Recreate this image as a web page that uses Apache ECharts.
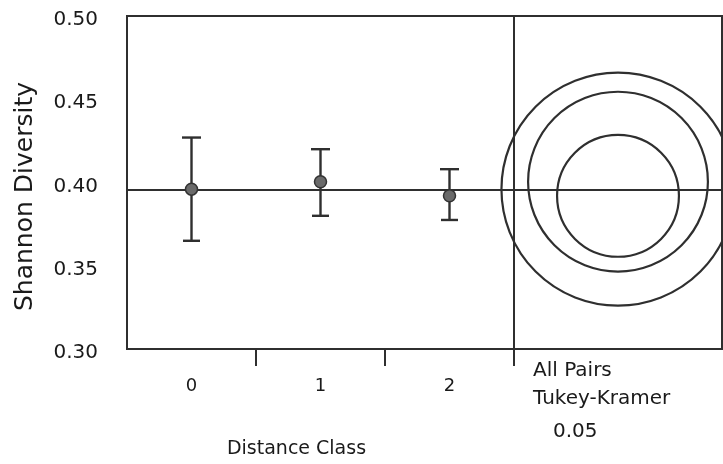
<!DOCTYPE html>
<html>
<head>
<meta charset="utf-8">
<script src="https://cdn.jsdelivr.net/npm/echarts@6/dist/echarts.min.js"></script>
<style>
html,body{margin:0;padding:0;background:#fff;}
#chart{width:723px;height:464px;}
</style>
</head>
<body>
<div id="chart"></div>
<script>
// ---- data ----
const categories = ['0', '1', '2'];
const means = [0.396, 0.4005, 0.392];
const lowerBars = [0.365, 0.380, 0.3775];
const upperBars = [0.427, 0.420, 0.408];
const grandMean = 0.3955;
const circleRadii = [0.070, 0.054, 0.0366];
const yTickValues = [0.30, 0.35, 0.40, 0.45, 0.50];
const panelLines = ['All Pairs', 'Tukey-Kramer', '0.05'];

const INK = '#2f2f2f';
const TXT = '#1a1a1a';
const FONT = 'DejaVu Sans';

const barData = categories.map((c, i) => [i, means[i], lowerBars[i], upperBars[i]]);
const circleData = means.map((m, i) => [0.5, m, circleRadii[i]]);

const chart = echarts.init(document.getElementById('chart'), null, {renderer: 'canvas'});

const option = {
  backgroundColor: '#fff',
  animation: false,
  grid: [
    {left: 127, top: 16, right: 209, bottom: 115, show: true, borderColor: INK, borderWidth: 2, backgroundColor: 'transparent'},
    {left: 514, top: 16, right: 1, bottom: 115, show: true, borderColor: INK, borderWidth: 2, backgroundColor: 'transparent'}
  ],
  xAxis: [
    {
      type: 'value', gridIndex: 0, min: -0.5, max: 2.5, interval: 1,
      axisLine: {show: true, onZero: false, lineStyle: {color: INK, width: 2}},
      axisTick: {show: true, length: 17, customValues: [0.5, 1.5, 2.5], lineStyle: {color: INK, width: 2}},
      axisLabel: {
        customValues: [0, 1, 2], margin: 28, fontFamily: FONT, fontSize: 18, color: TXT,
        formatter: v => categories[Math.round(v)]
      },
      splitLine: {show: false},
      name: 'Distance Class', nameLocation: 'middle', nameGap: 91,
      nameTextStyle: {fontFamily: FONT, fontSize: 19, color: TXT, padding: [0, 48, 0, 0]}
    },
    {
      type: 'value', gridIndex: 1, min: 0, max: 1, show: false
    }
  ],
  yAxis: [
    {
      type: 'value', gridIndex: 0, min: 0.3, max: 0.5, interval: 0.05,
      axisLine: {show: true, onZero: false, lineStyle: {color: INK, width: 2}},
      axisTick: {show: false},
      axisLabel: {
        customValues: yTickValues, margin: 29, fontFamily: FONT, fontSize: 20, color: TXT,
        verticalAlign: 'top', lineHeight: 8,
        formatter: v => v.toFixed(2)
      },
      splitLine: {show: false},
      name: 'Shannon Diversity', nameLocation: 'middle', nameGap: 89,
      nameTextStyle: {fontFamily: FONT, fontSize: 25, color: TXT, padding: [0, 28, 0, 0]}
    },
    {
      type: 'value', gridIndex: 1, min: 0.3, max: 0.5, show: false
    }
  ],
  series: [
    {
      type: 'line', xAxisIndex: 0, yAxisIndex: 0, silent: true,
      data: [[-0.5, grandMean], [2.5, grandMean]],
      showSymbol: false, symbol: 'none',
      lineStyle: {color: INK, width: 2}, z: 2
    },
    {
      type: 'line', xAxisIndex: 1, yAxisIndex: 1, silent: true,
      data: [[0, grandMean], [1, grandMean]],
      showSymbol: false, symbol: 'none',
      lineStyle: {color: INK, width: 2}, z: 2
    },
    {
      type: 'custom', name: 'means', xAxisIndex: 0, yAxisIndex: 0,
      data: barData,
      encode: {x: 0, y: [1, 2, 3]},
      renderItem: function (params, api) {
        const c = api.coord([api.value(0), api.value(1)]);
        const lo = api.coord([api.value(0), api.value(2)]);
        const hi = api.coord([api.value(0), api.value(3)]);
        const hw = 9.5;
        const ls = {stroke: INK, lineWidth: 2.4};
        return {
          type: 'group',
          children: [
            {type: 'line', shape: {x1: hi[0], y1: hi[1], x2: lo[0], y2: lo[1]}, style: ls},
            {type: 'line', shape: {x1: hi[0] - hw, y1: hi[1], x2: hi[0] + hw, y2: hi[1]}, style: ls},
            {type: 'line', shape: {x1: lo[0] - hw + 1, y1: lo[1], x2: lo[0] + hw - 1, y2: lo[1]}, style: ls},
            {type: 'circle', shape: {cx: c[0], cy: c[1], r: 6}, style: {fill: '#6a6a6a', stroke: '#333', lineWidth: 1.5}}
          ]
        };
      },
      z: 5
    },
    {
      type: 'custom', name: 'circles', xAxisIndex: 1, yAxisIndex: 1,
      data: circleData,
      encode: {x: 0, y: 1},
      clip: false,
      renderItem: function (params, api) {
        const c = api.coord([api.value(0), api.value(1)]);
        const r = api.size([0, api.value(2)])[1];
        return {
          type: 'circle',
          shape: {cx: c[0], cy: c[1], r: r},
          style: {fill: 'none', stroke: INK, lineWidth: 2.2}
        };
      }
    }
  ],
  graphic: [
    {type: 'text', left: 533, top: 361, style: {text: panelLines[0], font: '20px "DejaVu Sans"', fill: TXT}},
    {type: 'text', left: 533, top: 389, style: {text: panelLines[1], font: '20px "DejaVu Sans"', fill: TXT}},
    {type: 'text', left: 553, top: 422, style: {text: panelLines[2], font: '20px "DejaVu Sans"', fill: TXT}}
  ]
};

chart.setOption(option);
</script>
</body>
</html>
